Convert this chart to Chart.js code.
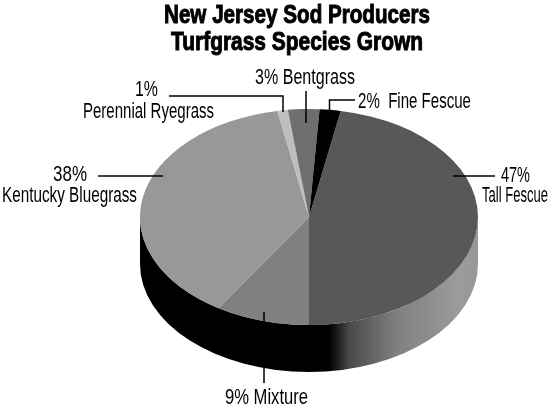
<!DOCTYPE html>
<html lang="en">
<head>
<meta charset="UTF-8">
<title>New Jersey Sod Producers</title>
<script src="https://cdn.jsdelivr.net/npm/chart.js@4"></script>
<style>
    html, body { margin: 0; padding: 0; background: #fff; }
    #wrap { width: 551px; height: 410px; }
    canvas { display: block; }
</style>
</head>
<body>
<div id="wrap"><canvas id="sodChart" width="551" height="410"></canvas></div>
<script>
// Turfgrass species share, percent
const species = ['Tall Fescue', 'Mixture', 'Kentucky Bluegrass', 'Perennial Ryegrass', 'Bentgrass', 'Fine Fescue'];
const shares = [47, 9, 38, 1, 3, 2];
const sliceColors = ['#58585a', '#808082', '#98989b', '#bcbec0', '#6d6e70', '#000000'];

// Tilt of the disc
const FACE_CY = 217;
const SQUASH = 108 / 169;
const DEPTH = 47;

// Heading and slice labels: each row is squeezed to w so the type reads condensed
const headingRows = [
    { text: 'New Jersey Sod Producers', x: 297, y: 23, w: 266 },
    { text: 'Turfgrass Species Grown', x: 297, y: 50, w: 252 }
];
const callouts = [
    { rows: [{ text: '47%', x: 515.5, y: 182, w: 29 }, { text: 'Tall Fescue', x: 515, y: 202, w: 66 }],
      path: [[453, 176], [495, 176]] },
    { rows: [{ text: '9% Mixture', x: 266.5, y: 404, w: 83 }],
      path: [[264, 312], [264, 383]] },
    { rows: [{ text: '38%', x: 70, y: 181, w: 34 }, { text: 'Kentucky Bluegrass', x: 69.5, y: 202, w: 135 }],
      path: [[98, 176], [163, 176]] },
    { rows: [{ text: '1%', x: 146.5, y: 96, w: 23 }, { text: 'Perennial Ryegrass', x: 148.5, y: 118, w: 131 }],
      path: [[169, 96], [283, 96], [283, 112]] },
    { rows: [{ text: '3% Bentgrass', x: 305, y: 84, w: 100 }],
      path: [[306, 91], [306, 123]] },
    { rows: [{ text: '2%  Fine Fescue', x: 414.5, y: 108, w: 113 }],
      path: [[355, 100], [329.5, 100], [329.5, 112]] }
];

// Side wall under the disc, then squash the slices into an ellipse
const tiltedDisc = {
    id: 'tiltedDisc',
    beforeDatasetsDraw(chart) {
        const ctx = chart.ctx;
        const arc = chart.getDatasetMeta(0).data[0];
        const cx = arc.x;
        const rx = arc.outerRadius;
        const ry = rx * SQUASH;

        const wall = ctx.createLinearGradient(cx - rx, 0, cx + rx, 0);
        wall.addColorStop(0, '#000');
        wall.addColorStop(0.56, '#000');
        wall.addColorStop(0.62, '#4a4a4c');
        wall.addColorStop(0.76, '#808082');
        wall.addColorStop(0.95, '#9c9c9f');
        wall.addColorStop(1, '#97979a');

        ctx.save();
        ctx.fillStyle = wall;
        ctx.beginPath();
        ctx.ellipse(cx, FACE_CY, rx, ry, 0, Math.PI, 0, true);
        ctx.lineTo(cx + rx, FACE_CY + DEPTH);
        ctx.ellipse(cx, FACE_CY + DEPTH, rx, ry, 0, 0, Math.PI, false);
        ctx.closePath();
        ctx.fill();
        ctx.restore();

        ctx.save();
        ctx.translate(0, FACE_CY);
        ctx.scale(1, SQUASH);
        ctx.translate(0, -arc.y);
    },
    afterDatasetsDraw(chart) {
        chart.ctx.restore();
    }
};

// Heading, leader lines and slice labels
const sliceCallouts = {
    id: 'sliceCallouts',
    afterDraw(chart) {
        const ctx = chart.ctx;
        ctx.save();
        ctx.textAlign = 'center';
        ctx.textBaseline = 'alphabetic';

        ctx.fillStyle = '#000';
        ctx.strokeStyle = '#000';
        ctx.lineWidth = 1;
        ctx.font = 'bold 26px "Liberation Sans", sans-serif';
        headingRows.forEach(r => {
            ctx.fillText(r.text, r.x, r.y, r.w);
            ctx.strokeText(r.text, r.x, r.y, r.w);
        });

        ctx.lineWidth = 1.5;
        ctx.font = '22px "Liberation Sans", sans-serif';
        callouts.forEach(c => {
            ctx.beginPath();
            c.path.forEach((p, i) => i ? ctx.lineTo(p[0], p[1]) : ctx.moveTo(p[0], p[1]));
            ctx.stroke();
            c.rows.forEach(r => ctx.fillText(r.text, r.x, r.y, r.w));
        });
        ctx.restore();
    }
};

new Chart(document.getElementById('sodChart'), {
    type: 'pie',
    data: {
        labels: species,
        datasets: [{
            data: shares,
            backgroundColor: sliceColors,
            borderWidth: 0
        }]
    },
    options: {
        responsive: false,
        animation: false,
        rotation: 10.8,
        layout: { padding: { left: 140, right: 73, top: 30, bottom: 30 } },
        plugins: {
            legend: { display: false },
            tooltip: { enabled: false },
            title: { display: false }
        }
    },
    plugins: [tiltedDisc, sliceCallouts]
});
</script>
</body>
</html>
